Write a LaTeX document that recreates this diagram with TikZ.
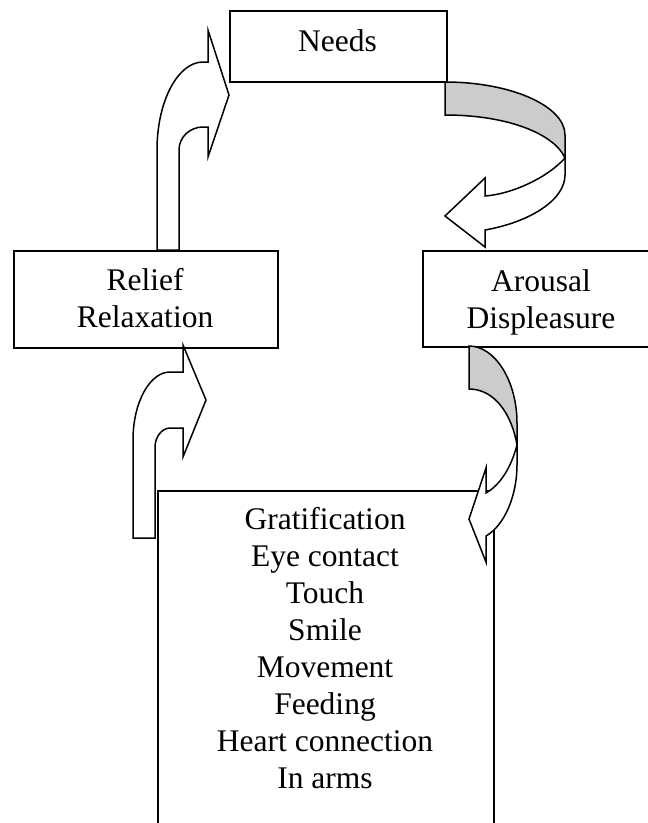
\documentclass[tikz,border=0pt]{standalone}
\usepackage{fontspec}
\setmainfont{Liberation Serif}
\newcommand\fstrut{\rule{0pt}{25pt}}
\begin{document}
\begin{tikzpicture}[x=1pt,y=-1pt,
  box/.style={draw=black, line width=1.5pt, fill=white, rectangle, inner sep=0pt, anchor=north west},
  lbl/.style={font=\fontsize{31.5}{37}\selectfont, align=center, inner sep=0pt, anchor=north},
  blockarrow/.style={draw=black, line width=1.5pt, fill=white, line join=miter},
  backface/.style={draw=black, line width=1.5pt, fill=black!20, line join=miter}]
\useasboundingbox (0,0) rectangle (648,823);
\clip (0,0) rectangle (648,823);

% boxes
\node[box, minimum width=217pt, minimum height=71pt] (needs) at (229,10) {};
\node[box, minimum width=264pt, minimum height=97pt] (relief) at (13,250) {};
\node[box, minimum width=240pt, minimum height=96pt] (arousal) at (422,250) {};
\node[box, minimum width=336pt, minimum height=360pt] (grat) at (157,490) {};

% texts
\node[lbl] (needs-t) at (337.5,26) {\fstrut Needs};
\node[lbl] (relief-t) at (145,265) {\fstrut Relief\\Relaxation};
\node[lbl] (arousal-t) at (541,266) {\fstrut Arousal\\Displeasure};
\node[lbl] (grat-t) at (325,504) {\fstrut Gratification\\Eye contact\\Touch\\Smile\\Movement\\Feeding\\Heart connection\\In arms};

% arrow: relief -> needs
\draw[blockarrow] (157,250) -- (157,150) .. controls (157,101) and (178,62) .. (203,62)
  -- (208,62) -- (208,30) -- (229,95) -- (208,157) -- (208,127) -- (203,127)
  .. controls (190,127) and (179,137) .. (179,150) -- (179,250) -- cycle;

% arrow: gratification -> relief
\draw[blockarrow] (133,538) -- (133,440) .. controls (133,402) and (150,372) .. (170,372)
  -- (183,372) -- (183,345) -- (206,400) -- (183,457) -- (183,428) -- (170,428)
  .. controls (162,428) and (155,437) .. (155,447) -- (155,538) -- cycle;

% arrow: needs -> arousal
\draw[backface] (445,82) .. controls (511,82) and (565,106) .. (565,135) -- (565,158)
  .. controls (555,135) and (510,115) .. (445,115) -- cycle;
\draw[blockarrow] (565,158) .. controls (547,178) and (512,194) .. (485,196)
  -- (485,178) -- (445,216) -- (485,247) -- (485,230)
  .. controls (530,222) and (565,200) .. (565,175) -- cycle;

% arrow: arousal -> gratification
\draw[backface] (469,346) .. controls (495,346) and (517,381) .. (517,423) -- (517,445)
  .. controls (512,415) and (495,389) .. (469,389) -- cycle;
\draw[blockarrow] (517,445) .. controls (511,468) and (500,485) .. (486,493)
  -- (486,468) -- (469,519) -- (486,562) -- (486,536)
  .. controls (505,525) and (517,495) .. (517,465) -- cycle;
\end{tikzpicture}
\end{document}
